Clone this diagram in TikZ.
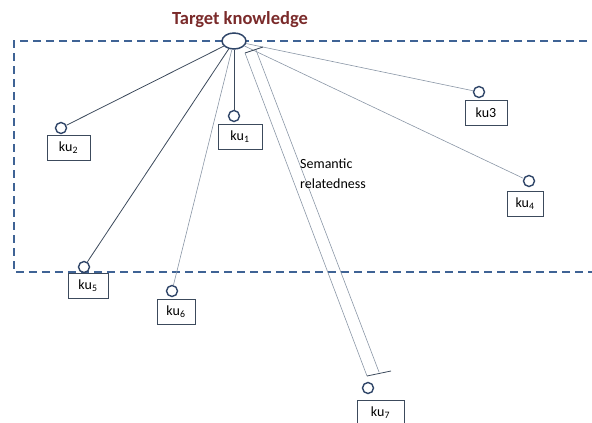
\documentclass[tikz,border=0pt]{standalone}
\usepackage{fontspec}
\setmainfont{Carlito}
\usetikzlibrary{shapes.geometric}
\definecolor{dashblue}{HTML}{3F6395}
\definecolor{dark}{HTML}{2F4568}
\definecolor{boxc}{HTML}{3C4A5C}
\definecolor{lite}{HTML}{8A96A6}
\definecolor{titlered}{HTML}{7A2A2A}
\tikzset{
  kubox/.style={draw=boxc, line width=0.9pt, fill=white, minimum height=25pt, inner sep=0pt, font=\fontsize{14}{16}\selectfont},
  knob/.style={circle, draw=dark, line width=1.4pt, fill=white, minimum size=11pt, inner sep=0pt},
  darkline/.style={draw=boxc, line width=0.8pt},
  liteline/.style={draw=lite, line width=0.6pt},
}
\begin{document}
\begin{tikzpicture}[x=1pt,y=-1pt]
\useasboundingbox (0,0) rectangle (592,423);
\draw[dashblue, line width=1.8pt, dash pattern=on 8pt off 5pt] (600,41) -- (14,41) -- (14,272) -- (600,272);
\node[text=titlered, font=\bfseries\fontsize{18.5}{20}\selectfont] (title) at (240,20) {Target knowledge};
\node[ellipse, draw=dark, line width=1.5pt, fill=white, minimum width=24pt, minimum height=16pt, inner sep=0pt] (t) at (234,41) {};
% boxes
\node[kubox, minimum width=43pt] (b2) at (68.5,147.5) {ku\textsubscript{2}};
\node[kubox, minimum width=44pt] (b1) at (240,137) {ku\textsubscript{1}};
\node[kubox, minimum width=42pt] (b3) at (486,112.5) {ku3};
\node[kubox, minimum width=36pt] (b4) at (525,204) {ku\textsubscript{4}};
\node[kubox, minimum width=40pt] (b5) at (88,285.5) {ku\textsubscript{5}};
\node[kubox, minimum width=38pt] (b6) at (176,311.5) {ku\textsubscript{6}};
\node[kubox, minimum width=47pt] (b7) at (380.5,413) {ku\textsubscript{7}};
% knobs
\node[knob] (c2) at (61,128) {};
\node[knob] (c1) at (234,116) {};
\node[knob] (c3) at (479,92) {};
\node[knob] (c4) at (529,181) {};
\node[knob] (c5) at (84,267) {};
\node[knob] (c6) at (172,291) {};
\node[knob] (c7) at (368,388) {};
% connectors
\draw[darkline] (t) -- (c2);
\draw[darkline] (t) -- (c5);
\draw[darkline, line width=1pt] (t) -- (c1);
\draw[liteline] (t) -- (c6);
\draw[liteline] (t) -- (c3);
\draw[liteline] (t) -- (c4);
% semantic relatedness dimension
\coordinate (s1a) at (245,53);
\coordinate (s2a) at (256,50);
\coordinate (s1b) at (367,376);
\coordinate (s2b) at (379,372);
\coordinate (tka) at (263,47);
\coordinate (tkb) at (391,371);
\draw[liteline] (s1a) -- (s1b);
\draw[liteline] (s2a) -- (s2b);
\draw[boxc, line width=0.8pt] (s1a) -- (tka);
\draw[boxc, line width=0.8pt] (s1b) -- (tkb);
\node[align=left, anchor=north west, inner sep=0pt, font=\fontsize{14}{20}\selectfont] (sem) at (300,159) {Semantic\\relatedness};
\end{tikzpicture}
\end{document}
